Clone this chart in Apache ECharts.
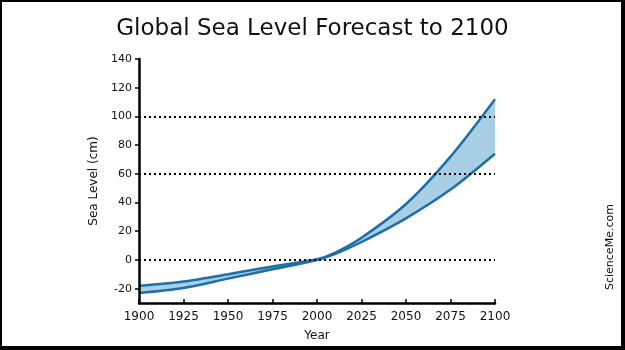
<!DOCTYPE html>
<html>
<head>
<meta charset="utf-8">
<script src="https://cdn.jsdelivr.net/npm/echarts@6/dist/echarts.min.js"></script>
<style>
  html, body { margin: 0; padding: 0; background: #fff; }
  #wrap { position: relative; width: 625px; height: 350px; }
  #chart { position: absolute; left: 0; top: 0; width: 625px; height: 350px; }
  #frame {
    position: absolute; left: 0; top: 0; width: 625px; height: 350px;
    box-sizing: border-box; border-style: solid; border-color: #000;
    border-width: 2px 4px 4px 2px; pointer-events: none;
  }
</style>
</head>
<body>
<div id="wrap">
  <div id="chart"></div>
  <div id="frame"></div>
</div>
<script>
// values
const years = [1900, 1925, 1950, 1975, 2000, 2010, 2025, 2050, 2075, 2100]
const highForecast = [-18, -15, -10, -4.5, 0.5, 5, 15.5, 39, 72, 112]
const lowForecast = [-23, -19.5, -13, -6.5, 0, 4, 12.5, 29, 49, 74]
const yTicks = [-20, 0, 20, 40, 60, 80, 100, 120, 140]
const refLevels = [0, 60, 100]

const lineColor = '#1f6ea7'
const bandColor = '#a8cfe4'
const font = 'DejaVu Sans'
const smooth = 0.3

const chart = echarts.init(document.getElementById('chart'))

const pairs = arr => years.map((y, i) => [y, arr[i]])

// band = light fill under the high curve, then white fill under the low curve
function areaSeries(arr, color) {
  return {
    type: 'line',
    data: pairs(arr),
    smooth: smooth,
    showSymbol: false,
    lineStyle: { width: 0, opacity: 0 },
    areaStyle: { color: color, opacity: 1, origin: 'start' },
    silent: true,
    z: 2
  }
}

function lineSeries(name, arr) {
  return {
    name: name,
    type: 'line',
    data: pairs(arr),
    smooth: smooth,
    showSymbol: false,
    lineStyle: { color: lineColor, width: 2.5 },
    z: 4
  }
}

const high = lineSeries('High', highForecast)
high.markLine = {
  silent: true,
  symbol: 'none',
  label: { show: false },
  lineStyle: { color: '#000', type: [2, 3], width: 2 },
  data: refLevels.map(v => ({ yAxis: v }))
}

const options = {
  animation: false,
  textStyle: { fontFamily: font },
  title: {
    text: 'Global Sea Level Forecast to 2100',
    left: 'center',
    top: 13,
    textStyle: { fontFamily: font, fontSize: 23, fontWeight: 'normal', color: '#111' }
  },
  grid: { left: 139, right: 130, top: 59, bottom: 47 },
  xAxis: {
    type: 'value',
    min: 1900,
    max: 2100,
    interval: 25,
    z: 10,
    name: 'Year',
    nameLocation: 'middle',
    nameGap: 27,
    nameTextStyle: { fontSize: 12, color: '#111' },
    axisLine: { onZero: false, lineStyle: { color: '#000', width: 2.5 } },
    axisTick: { inside: true, length: 4, lineStyle: { color: '#000', width: 1.5 } },
    axisLabel: { color: '#111', fontSize: 12, margin: 8, formatter: v => String(v) },
    splitLine: { show: false }
  },
  yAxis: {
    type: 'value',
    min: -30,
    max: 140,
    interval: 10,
    z: 10,
    name: 'Sea Level (cm)',
    nameLocation: 'middle',
    nameGap: 25,
    nameTextStyle: { fontSize: 12, color: '#111' },
    axisLine: { show: true, onZero: false, lineStyle: { color: '#000', width: 2.5 } },
    axisTick: { show: true, length: 4, customValues: yTicks, lineStyle: { color: '#000', width: 1.5 } },
    axisLabel: { color: '#111', fontSize: 11, margin: 7, customValues: yTicks },
    splitLine: { show: false }
  },
  graphic: [{
    type: 'text',
    x: 605,
    y: 290,
    rotation: Math.PI / 2,
    style: { text: 'ScienceMe.com', font: '11px ' + font, fill: '#111' }
  }],
  series: [
    areaSeries(highForecast, bandColor),
    areaSeries(lowForecast, '#ffffff'),
    high,
    lineSeries('Low', lowForecast)
  ]
}

options && chart.setOption(options)
</script>
</body>
</html>
